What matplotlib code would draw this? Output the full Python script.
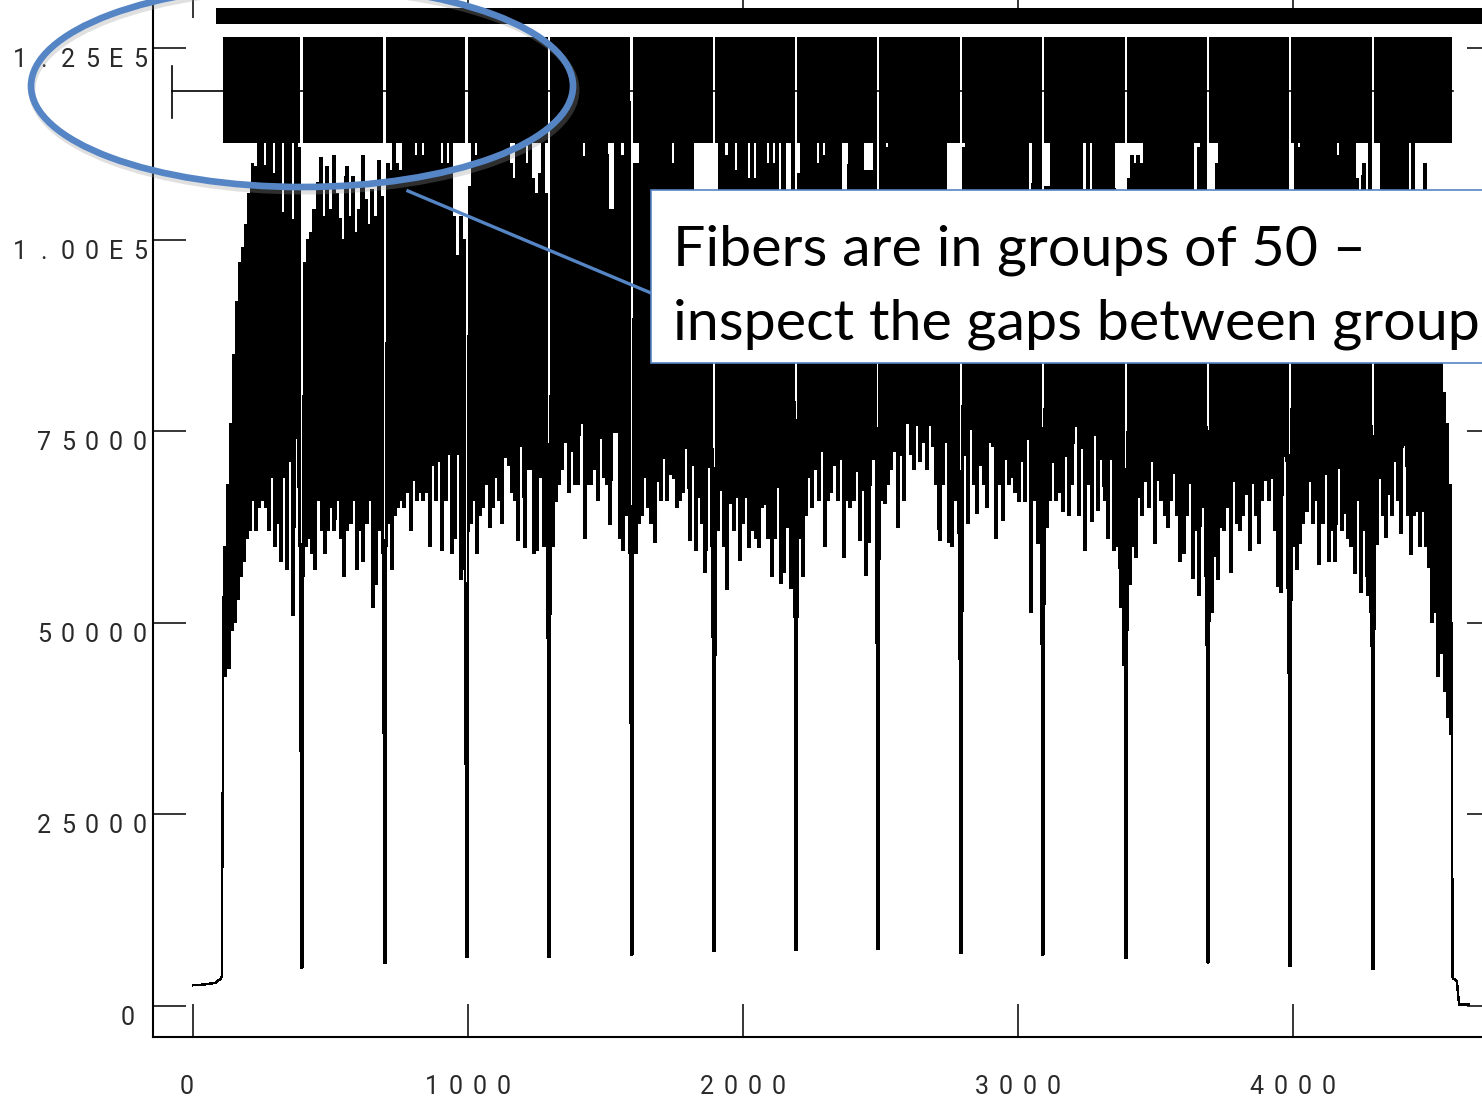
import matplotlib
matplotlib.use('Agg')
import matplotlib.pyplot as plt
import numpy as np
from matplotlib.patches import Rectangle, Ellipse
from matplotlib.lines import Line2D

W, H = 1482, 1098

# ---- data (x in pixel-column units of the detector, y in thousands of counts) ----
# group borders: 15 groups of 50 fibers, gaps between them
group_edges = [105, 396, 698, 996, 1295, 1596, 1895, 2193, 2491, 2793,
               3091, 3393, 3691, 3989, 4291, 4582]
gap_min = [5.0, 5.6, 6.4, 6.4, 6.7, 7.2, 7.3, 7.4, 6.9, 6.7, 6.3, 5.7, 5.2, 4.8]

# flat level before the first fiber and after the last one
lead_x = [0, 40, 80, 100, 105]
lead_y = [2.7, 2.8, 3.0, 3.5, 3.9]
tail_x = [4581, 4596, 4604, 4640]
tail_y = [3.65, 3.3, 0.2, 0.2]

# inter-fiber minima, read every second fiber
t01 = [43, 44, 49, 50, 53, 56, 58, 61, 62, 66, 62, 65, 66, 65, 62, 69, 60, 63, 58, 69, 57, 71, 51, 74, 60]
t02 = [60, 61, 59, 57, 66, 62, 59, 62, 65, 62, 66, 61, 56, 62, 63, 66, 57, 62, 58, 63, 66, 52, 55, 62, 59]
t03 = [63, 57, 64, 65, 66, 65, 67, 62, 68.6, 66, 67, 66, 67, 60, 70.6, 66, 71, 59.5, 66, 72, 59, 61, 72, 55.6, 57]
t04 = [63, 66, 59, 64, 65, 68, 62.5, 65, 69, 66, 63, 71.6, 70.6, 67, 66, 60.8, 73, 59.8, 70, 70, 59, 59.5, 69, 60, 62]
t05 = [60, 65.8, 68, 70, 73.6, 67, 72.3, 68, 68, 76, 61, 68, 68, 70, 66, 74, 69, 68, 62.8, 74.8, 74.8, 61, 59.5, 64, 59]
t06 = [59, 63, 64, 69, 65, 63, 60.5, 68.4, 66, 71.5, 66, 69.3, 68.9, 65, 66, 67, 72.7, 60.8, 70.6, 59.5, 66.4, 63, 56.6, 70.3, 60]
t07 = [62, 67.3, 60, 54.3, 65.6, 62, 66.4, 58.2, 63, 66.3, 59.8, 62, 61, 59.8, 65, 65.4, 61, 56, 61, 67.6, 55.2, 56.6, 62.5, 54.5, 55.6]
t08 = [61, 56, 64, 69, 65, 70, 66, 72.3, 59.9, 66, 67, 70.6, 66, 71.3, 58.5, 66, 65, 66, 69.7, 60.8, 67.3, 56.2, 60.5, 71.3, 73.6]
t09 = [66, 65.6, 68, 70, 72.3, 62.5, 71.9, 66, 76, 72, 70, 75.8, 71, 73.5, 70, 75.8, 73, 68, 60.8, 68, 73.6, 60.5, 60, 66, 61.7]
t10 = [71.9, 63, 75.2, 68, 64.3, 70.6, 68, 65, 73.5, 73, 61, 68, 63.4, 71.3, 68, 69, 67, 65.8, 71, 65.8, 73.9, 51.3, 66, 60.4, 62]
t11 = [62.5, 66, 70.9, 66, 67, 64.5, 71.7, 64, 68, 75.6, 64, 72.8, 59.5, 68, 63.2, 74.5, 64.7, 71.3, 66, 61, 71.3, 59.5, 60, 52, 44.5]
t12 = [55, 60, 58.5, 66.4, 64, 68.4, 65, 71, 60.4, 68.6, 66, 64, 62.5, 66, 69.5, 64, 58, 59.1, 64, 68.2, 55.8, 62, 53.6, 65, 56]
t13 = [51.3, 58.6, 55.6, 62.5, 62, 65, 56.6, 68.4, 63, 62, 64, 66.7, 59.5, 68.2, 64, 60.4, 66, 68.6, 66, 68.9, 62, 54.7, 53.9, 71.7, 54.5]
t14 = [60, 56.9, 60.4, 63, 64.5, 68.4, 63, 66, 57.6, 63, 69.3, 58, 62, 58, 70.2, 62, 64.3, 61, 60, 56.5, 66, 54, 62.1, 53.6, 51.3]
t15 = [60.2, 68.9, 64, 61.2, 66.7, 64, 71, 66, 61.7, 73.2, 64, 58.9, 64, 64.5, 60, 64.5, 59.9, 57.2, 50.1, 51.3, 43, 46, 41, 37.7, 35.4]

# fiber maxima, read every second fiber
p01 = [60, 68, 76, 85, 92, 97, 99, 102, 106, 110, 109.5, 118, 118, 109.7, 118, 118, 108.7, 118, 118, 103.6, 118, 118, 102.6, 118, 112]
p02 = [97, 100, 101, 104, 107.5, 110.7, 103, 109.5, 104, 111, 106, 102.8, 100, 109.5, 103, 108.2, 101, 104, 111, 105.2, 102, 106.5, 103, 110.4, 105.6]
p03 = [110, 109, 118, 110, 109, 118, 118, 118, 118, 111, 118, 111, 118, 118, 118, 118, 118, 110, 118, 110, 118, 103, 98, 103, 100]
p04 = [107, 118, 111, 118, 118, 118, 118, 118, 118, 118, 118, 118, 118, 110, 108, 118, 118, 118, 110, 118, 108, 106, 108.7, 118, 106]
p05 = [118, 118, 118, 118, 118, 118, 118, 118, 118, 118, 110.8, 118, 118, 118, 118, 118, 118, 118, 104, 104, 118, 118, 111, 118, 118]
p06 = [110, 110, 118, 118, 118, 118, 118, 118, 118, 118, 118, 118, 110, 118, 118, 118, 118, 118, 118, 104, 104, 104, 104, 104, 104]
p07 = [104, 118, 118, 111, 118, 118, 109, 118, 118, 118, 108, 118, 108, 118, 118, 118, 110, 118, 110, 118, 106, 118, 106, 106, 118]
p08 = [108.7, 118, 118, 118, 118, 118, 110, 118, 111, 118, 118, 118, 118, 118, 106, 106, 118, 118, 118, 118, 118, 109, 109, 109, 118]
p09 = [118, 118, 112, 118, 118, 118, 118, 118, 118, 118, 118, 118, 118, 118, 118, 118, 118, 118, 118, 118, 118, 104, 104, 104, 104]
p10 = [112, 118, 118, 118, 118, 118, 118, 118, 118, 118, 118, 118, 118, 118, 118, 118, 118, 118, 118, 118, 118, 106, 118, 118, 118]
p11 = [107, 107, 118, 118, 118, 118, 118, 118, 118, 118, 118, 118, 106.5, 118, 106.5, 118, 118, 118, 118, 118, 118, 118, 104, 104, 104]
p12 = [108, 111, 110, 111, 110, 118, 118, 118, 118, 118, 118, 118, 118, 118, 118, 118, 118, 118, 118, 118, 118, 106, 112, 118, 118]
p13 = [104, 104, 110, 118, 118, 118, 118, 118, 118, 118, 118, 118, 118, 118, 118, 118, 118, 118, 118, 118, 118, 118, 118, 118, 118]
p14 = [104, 118, 112, 118, 118, 118, 118, 118, 118, 118, 118, 118, 118, 118, 111, 118, 118, 118, 118, 118, 108, 106, 110, 106, 118]
p15 = [104, 104, 118, 118, 118, 118, 118, 118, 118, 118, 118, 106, 118, 104, 103, 104, 110, 103, 100, 98, 94, 90, 80, 76, 68]

trough_groups = [t01, t02, t03, t04, t05, t06, t07, t08, t09, t10, t11, t12, t13, t14, t15]
peak_groups = [p01, p02, p03, p04, p05, p06, p07, p08, p09, p10, p11, p12, p13, p14, p15]

xticks = [0, 1000, 2000, 3000, 4000]
xticklabels = ['0', '1000', '2000', '3000', '4000']
yticks = [0, 25000, 50000, 75000, 100000, 125000]
yticklabels = ['0', '25000', '50000', '75000', '1.00E5', '1.25E5']

note_lines = ['Fibers are in groups of 50 \u2013', 'inspect the gaps between groups']

# ---- build the trace: up to each fiber max, down to the minimum between fibers ----
FIBERS = 50
GAP_HALF = 8      # half distance from a group edge to its outermost fiber
GAP_FLAT = 2.5    # half width of the flat bottom of a gap
xs, ys = list(lead_x), list(lead_y)
for g in range(len(peak_groups)):
    a, b = group_edges[g] + GAP_HALF, group_edges[g + 1] - GAP_HALF
    fx = np.linspace(a, b, FIBERS)
    pk = np.repeat(peak_groups[g], 2)
    tr = np.repeat(trough_groups[g], 2)[:FIBERS - 1]
    for i in range(FIBERS):
        xs.append(fx[i]); ys.append(pk[i])
        if i < FIBERS - 1:
            xs.append((fx[i] + fx[i + 1]) / 2); ys.append(tr[i])
    if g < len(gap_min):
        e = group_edges[g + 1]
        xs += [e - GAP_FLAT, e + GAP_FLAT]
        ys += [gap_min[g], gap_min[g]]
xs += tail_x
ys += tail_y
xs = np.array(xs)
ys = np.array(ys) * 1000

fig = plt.figure(figsize=(W / 100, H / 100), dpi=100)
fig.patch.set_facecolor('white')
ax = fig.add_axes([153 / W, 61 / H, (1500 - 153) / W, (1113 - 61) / H])
ax.set_xlim(-145, 4753)
ax.set_ylim(-4045, 133240)

ax.plot(xs, ys, color='black', lw=1.0, antialiased=False, solid_joinstyle='miter')

# aperture label blocks above the trace
for g in range(len(peak_groups)):
    x0 = group_edges[g] + 5
    ax.add_patch(Rectangle((x0, 112600), group_edges[g + 1] - 5 - x0, 13900,
                           facecolor='black', edgecolor='none', zorder=3))
ax.add_patch(Rectangle((84, 128100), 5000, 2200, facecolor='black', edgecolor='none', zorder=3))
ax.plot([-76, -76], [115900, 122700], color='black', lw=1.2, zorder=3)
ax.plot([-76, group_edges[-1]], [119400, 119400], color='black', lw=1.2, zorder=2)

ax.set_xticks(xticks)
ax.set_yticks(yticks)
ax.tick_params(direction='in', length=24, width=1.1, top=True, right=True,
               labelbottom=False, labelleft=False, color='black')
for s in ax.spines.values():
    s.set_linewidth(1.5)

# IRAF-style wide-spaced tick labels
PITCH = 24
def spaced_label(cx, cy, s, anchor):
    n = len(s)
    x0 = cx - PITCH * (n - 1) if anchor == 'right' else cx - PITCH * (n - 1) / 2
    for i, ch in enumerate(s):
        fig.text((x0 + i * PITCH) / W, (cy - 9) / H, ch, ha='center', va='baseline',
                 fontsize=18, family=['Roboto', 'DejaVu Sans'], weight='normal',
                 color='#2a2a2a', zorder=1)

for v, lab in zip(yticks, yticklabels):
    _, py = ax.transData.transform((0, v))
    spaced_label(140 if len(lab) > 1 else 128, py - 10, lab, 'right')
for v, lab in zip(xticks, xticklabels):
    px, _ = ax.transData.transform((v, 0))
    spaced_label(px - (6 if v == 0 else 0), H - 1085, lab, 'center')

# callout
blue = '#5585C5'
fig.add_artist(Ellipse((304 / W, 1 - 90 / H), 544 / W, 202 / H, transform=fig.transFigure,
                       fill=False, edgecolor='#9a9a9a', lw=5, alpha=0.3, zorder=4))
fig.add_artist(Ellipse((302 / W, 1 - 86 / H), 542 / W, 202 / H, transform=fig.transFigure,
                       fill=False, edgecolor=blue, lw=4.8, zorder=5))
fig.add_artist(Line2D([408 / W, 651 / W], [1 - 191 / H, 1 - 293 / H], transform=fig.transFigure,
                      color=blue, lw=2.4, zorder=5))
fig.add_artist(Rectangle((651 / W, 1 - 363 / H), (1495 - 651) / W, (363 - 190) / H,
                         transform=fig.transFigure, facecolor='white', edgecolor=blue,
                         lw=1.2, zorder=6))
t1 = fig.text(673 / W, 1 - 265 / H, note_lines[0], ha='left', va='baseline',
              family=['Lato', 'DejaVu Sans'], fontsize=40, color='black', zorder=7)
t2 = fig.text(673 / W, 1 - 340 / H, note_lines[1], ha='left', va='baseline',
              family=['Lato', 'DejaVu Sans'], fontsize=40, color='black', zorder=7)
fig.canvas.draw()
w1 = t1.get_window_extent().width
size = 40 * 692 / w1
t1.set_fontsize(size)
t2.set_fontsize(size)

fig.savefig('out.png', dpi=100)
